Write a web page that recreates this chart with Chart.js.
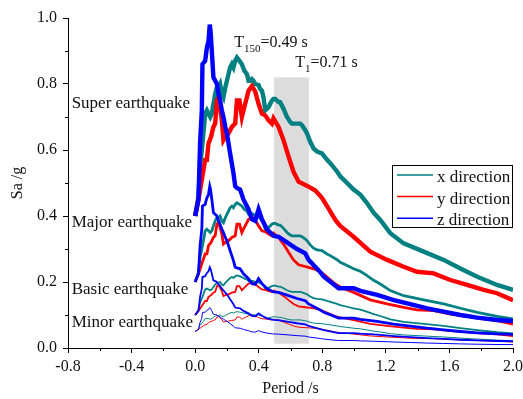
<!DOCTYPE html>
<html>
<head>
<meta charset="utf-8">
<script src="https://cdn.jsdelivr.net/npm/chart.js@4.4.1/dist/chart.umd.min.js"></script>
<style>
  html, body { margin: 0; padding: 0; background: #fff; }
</style>
</head>
<body>
<canvas id="chart" width="523" height="399"></canvas>
<script>
// Response spectra (Sa in g)
const periodsX = [0, 0.021, 0.031, 0.042, 0.052, 0.063, 0.074, 0.084, 0.095, 0.105, 0.115, 0.126, 0.137, 0.147, 0.157, 0.168, 0.178, 0.19, 0.20, 0.21, 0.22, 0.231, 0.241, 0.252, 0.263, 0.279, 0.294, 0.31, 0.326, 0.336, 0.346, 0.357, 0.367, 0.378, 0.399, 0.409, 0.42, 0.43, 0.441, 0.452, 0.462, 0.483, 0.493, 0.504, 0.525, 0.535, 0.556, 0.578, 0.598, 0.609, 0.63, 0.661, 0.672, 0.693, 0.704, 0.724, 0.745, 0.767, 0.798, 0.83, 0.85, 0.893, 0.913, 0.956, 0.997, 1.039, 1.08, 1.123, 1.165, 1.228, 1.312, 1.438, 1.564, 1.669, 1.775, 1.90, 2.0];
const superX = [0.40, 0.46, 0.55, 0.60, 0.65, 0.71, 0.72, 0.71, 0.70, 0.71, 0.74, 0.77, 0.79, 0.79, 0.80, 0.77, 0.76, 0.79, 0.81, 0.83, 0.85, 0.86, 0.85, 0.87, 0.88, 0.87, 0.86, 0.84, 0.83, 0.81, 0.81, 0.815, 0.81, 0.80, 0.797, 0.785, 0.78, 0.76, 0.72, 0.725, 0.73, 0.75, 0.755, 0.755, 0.745, 0.745, 0.725, 0.70, 0.685, 0.68, 0.68, 0.68, 0.675, 0.66, 0.65, 0.625, 0.605, 0.595, 0.59, 0.57, 0.56, 0.535, 0.52, 0.50, 0.48, 0.465, 0.44, 0.41, 0.388, 0.348, 0.317, 0.292, 0.267, 0.241, 0.216, 0.191, 0.176];

const periodsY = [0, 0.021, 0.042, 0.063, 0.074, 0.084, 0.10, 0.115, 0.126, 0.137, 0.147, 0.157, 0.168, 0.178, 0.19, 0.21, 0.231, 0.252, 0.263, 0.279, 0.294, 0.304, 0.315, 0.336, 0.357, 0.378, 0.399, 0.42, 0.441, 0.462, 0.483, 0.493, 0.525, 0.556, 0.588, 0.619, 0.651, 0.693, 0.714, 0.756, 0.798, 0.83, 0.882, 0.913, 0.997, 1.102, 1.208, 1.312, 1.396, 1.501, 1.606, 1.711, 1.816, 1.90, 2.0];
const superY = [0.40, 0.45, 0.51, 0.57, 0.57, 0.62, 0.64, 0.67, 0.68, 0.75, 0.76, 0.73, 0.69, 0.63, 0.64, 0.65, 0.67, 0.68, 0.75, 0.75, 0.70, 0.72, 0.74, 0.78, 0.794, 0.777, 0.74, 0.71, 0.705, 0.69, 0.68, 0.696, 0.67, 0.63, 0.58, 0.534, 0.504, 0.494, 0.489, 0.477, 0.455, 0.43, 0.388, 0.37, 0.337, 0.292, 0.267, 0.246, 0.231, 0.226, 0.206, 0.191, 0.176, 0.166, 0.145];

const periodsZ = [0, 0.021, 0.031, 0.042, 0.046, 0.063, 0.074, 0.084, 0.092, 0.097, 0.105, 0.115, 0.126, 0.137, 0.147, 0.157, 0.168, 0.178, 0.19, 0.20, 0.22, 0.241, 0.252, 0.263, 0.283, 0.304, 0.336, 0.357, 0.378, 0.399, 0.42, 0.452, 0.493, 0.525, 0.578, 0.641, 0.693, 0.714, 0.787, 0.81, 0.903, 0.997, 1.04, 1.145, 1.25, 1.354, 1.46, 1.564, 1.669, 1.775, 1.90, 2.0];
const superZ = [0.40, 0.45, 0.62, 0.72, 0.86, 0.87, 0.91, 0.93, 0.98, 0.96, 0.90, 0.82, 0.81, 0.80, 0.77, 0.75, 0.72, 0.70, 0.67, 0.65, 0.59, 0.53, 0.49, 0.485, 0.48, 0.45, 0.42, 0.39, 0.385, 0.42, 0.39, 0.36, 0.34, 0.337, 0.32, 0.30, 0.287, 0.267, 0.23, 0.216, 0.181, 0.181, 0.173, 0.161, 0.145, 0.133, 0.12, 0.11, 0.10, 0.092, 0.085, 0.082];

// Earthquake levels: PGA relative to the super earthquake
const levelNames = ['Minor earthquake', 'Basic earthquake', 'Major earthquake', 'Super earthquake'];
const levelScale = [0.125, 0.25, 0.5, 1];
const levelLabelAt = [[-0.777, 0.063], [-0.777, 0.164], [-0.777, 0.366], [-0.777, 0.727]];

const directions = ['x direction', 'y direction', 'z direction'];
const dirColors = ['#008080', '#ff0000', '#0000ff'];
const levelWidths = [1, 1.8, 2.8, 4.4];

// shaded period band between T150 and T1
const bandPeriods = [0.497, 0.716];
const bandSa = [0.013, 0.82];

const xMinorTicks = [-0.6, -0.2, 0.2, 0.6, 1.0, 1.4, 1.8];
const yMinorTicks = [0.1, 0.3, 0.5, 0.7, 0.9];

const SERIF = '"Liberation Serif", "Times New Roman", serif';

const series = [[periodsX, superX], [periodsY, superY], [periodsZ, superZ]];
const datasets = [];
levelScale.forEach((k, li) => {
    series.forEach(([periods, sa], di) => {
        datasets.push({
            label: directions[di] + ' - ' + levelNames[li],
            data: periods.map((t, i) => ({ x: t, y: sa[i] * k })),
            borderColor: dirColors[di],
            borderWidth: levelWidths[li],
            pointRadius: 0,
            tension: 0,
            fill: false,
            order: (3 - di) * 10 + (4 - li)
        });
    });
});

// grey band behind the curves
const bandPlugin = {
    id: 'band',
    beforeDatasetsDraw(chart) {
        const { ctx, scales: { x, y } } = chart;
        const x0 = x.getPixelForValue(bandPeriods[0]);
        const x1 = x.getPixelForValue(bandPeriods[1]);
        const y0 = y.getPixelForValue(bandSa[1]);
        const y1 = y.getPixelForValue(bandSa[0]);
        ctx.save();
        ctx.fillStyle = '#dcdcdc';
        ctx.fillRect(x0, y0, x1 - x0, y1 - y0);
        ctx.restore();
    }
};

function drawSub(ctx, x, y, main, sub, rest) {
    ctx.font = '16px ' + SERIF;
    ctx.fillText(main, x, y);
    let w = ctx.measureText(main).width;
    ctx.font = '11px ' + SERIF;
    ctx.fillText(sub, x + w, y + 5);
    w += ctx.measureText(sub).width;
    ctx.font = '16px ' + SERIF;
    ctx.fillText(rest, x + w, y);
}

// labels, minor ticks and legend
const extrasPlugin = {
    id: 'extras',
    afterDraw(chart) {
        const { ctx, chartArea, scales: { x, y } } = chart;
        ctx.save();
        ctx.fillStyle = '#111';
        ctx.textBaseline = 'alphabetic';
        ctx.textAlign = 'left';

        ctx.font = '17px ' + SERIF;
        levelNames.forEach((name, i) => {
            ctx.fillText(name, x.getPixelForValue(levelLabelAt[i][0]), y.getPixelForValue(levelLabelAt[i][1]));
        });

        drawSub(ctx, x.getPixelForValue(0.246), y.getPixelForValue(0.913), 'T', '150', '=0.49 s');
        drawSub(ctx, x.getPixelForValue(0.63), y.getPixelForValue(0.852), 'T', '1', '=0.71 s');

        // minor ticks
        ctx.strokeStyle = '#000';
        ctx.lineWidth = 1;
        ctx.beginPath();
        xMinorTicks.forEach(v => {
            const px = Math.round(x.getPixelForValue(v)) + 0.5;
            ctx.moveTo(px, chartArea.bottom);
            ctx.lineTo(px, chartArea.bottom + 3);
        });
        yMinorTicks.forEach(v => {
            const py = Math.round(y.getPixelForValue(v)) + 0.5;
            ctx.moveTo(chartArea.left, py);
            ctx.lineTo(chartArea.left - 3, py);
        });
        ctx.stroke();

        // legend box
        const bw = 120, bh = 62;
        const bx = chartArea.right - 1 - bw;
        const by = chartArea.top + 147;
        ctx.fillStyle = '#fff';
        ctx.fillRect(bx, by, bw, bh);
        ctx.strokeStyle = '#000';
        ctx.strokeRect(Math.round(bx) + 0.5, Math.round(by) + 0.5, bw, bh);
        ctx.font = '17px ' + SERIF;
        directions.forEach((d, i) => {
            const ly = by + 10 + i * 21.6;
            ctx.strokeStyle = dirColors[i];
            ctx.lineWidth = 1.5;
            ctx.beginPath();
            ctx.moveTo(bx + 5, ly);
            ctx.lineTo(bx + 41, ly);
            ctx.stroke();
            ctx.fillStyle = '#111';
            ctx.fillText(d, bx + 45, ly + 7);
        });
        ctx.restore();
    }
};

const tickFmt = v => {
    const s = Number(v).toFixed(1);
    return s === '-0.0' ? '0.0' : s;
};

new Chart(document.getElementById('chart'), {
    type: 'line',
    data: { datasets: datasets },
    options: {
        responsive: false,
        devicePixelRatio: 1,
        animation: false,
        layout: { padding: { top: 18, right: 10, left: 0, bottom: 0 } },
        plugins: { legend: { display: false }, tooltip: { enabled: false } },
        scales: {
            x: {
                type: 'linear',
                min: -0.8,
                max: 2.0,
                afterFit(s) { s.height = 51; s.paddingLeft = 0; s.paddingRight = 0; },
                border: { color: '#000', width: 1 },
                grid: { drawOnChartArea: false, drawTicks: true, tickLength: 5, color: '#000' },
                ticks: { stepSize: 0.4, padding: 4, maxRotation: 0, autoSkip: false, color: '#111', font: { family: SERIF, size: 16 }, callback: tickFmt },
                title: { display: true, text: 'Period /s', color: '#111', font: { family: SERIF, size: 16 }, padding: { top: 0, bottom: 1 } }
            },
            y: {
                min: 0,
                max: 1.0,
                afterFit(s) { s.width = 68; s.paddingTop = 0; s.paddingBottom = 0; },
                border: { color: '#000', width: 1 },
                grid: { drawOnChartArea: false, drawTicks: true, tickLength: 5, color: '#000' },
                ticks: { stepSize: 0.2, padding: 6, autoSkip: false, color: '#111', font: { family: SERIF, size: 16 }, callback: tickFmt },
                title: { display: true, text: 'Sa /g', color: '#111', font: { family: SERIF, size: 16 }, padding: { top: 8, bottom: 0 } }
            }
        }
    },
    plugins: [bandPlugin, extrasPlugin]
});
</script>
</body>
</html>
